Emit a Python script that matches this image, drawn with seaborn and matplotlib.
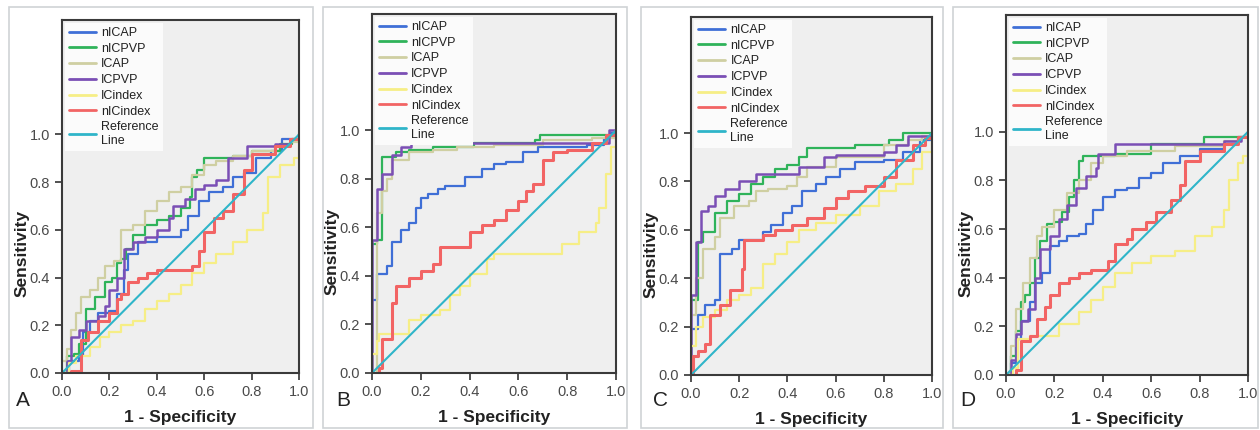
import numpy as np
import pandas as pd
import matplotlib
matplotlib.use("Agg")
import matplotlib.pyplot as plt
from matplotlib.patches import Rectangle
from matplotlib.lines import Line2D
import seaborn as sns

# Courbes ROC : points (1 - spécificité, sensibilité)
CURVES = ["nICAP", "nICPVP", "ICAP", "ICPVP", "ICindex", "nICindex"]
PANELS = ["A", "B", "C", "D"]

# Panneau A
A_nICAP = [(0, 0), (0.03, 0.05), (0.07, 0.07), (0.09, 0.17), (0.12, 0.22), (0.15, 0.25), (0.20, 0.26),
           (0.23, 0.33), (0.26, 0.43), (0.28, 0.50), (0.32, 0.55), (0.40, 0.57), (0.48, 0.57), (0.50, 0.60),
           (0.53, 0.66), (0.58, 0.72), (0.62, 0.76), (0.68, 0.78), (0.72, 0.82), (0.77, 0.84), (0.82, 0.90),
           (0.88, 0.93), (0.93, 0.98), (1, 1)]
A_nICPVP = [(0, 0), (0.02, 0.07), (0.05, 0.08), (0.07, 0.12), (0.10, 0.27), (0.14, 0.32), (0.18, 0.38),
            (0.21, 0.40), (0.23, 0.46), (0.25, 0.48), (0.27, 0.52), (0.30, 0.58), (0.35, 0.62), (0.40, 0.64),
            (0.45, 0.66), (0.50, 0.69), (0.54, 0.74), (0.55, 0.82), (0.57, 0.85), (0.60, 0.90), (0.72, 0.91),
            (0.80, 0.93), (0.92, 0.96), (0.97, 0.98), (1, 1)]
A_ICAP = [(0, 0.05), (0.02, 0.10), (0.04, 0.18), (0.06, 0.25), (0.08, 0.32), (0.12, 0.35), (0.15, 0.40),
          (0.18, 0.45), (0.22, 0.47), (0.25, 0.60), (0.30, 0.62), (0.35, 0.68), (0.40, 0.72), (0.45, 0.76),
          (0.50, 0.78), (0.55, 0.83), (0.60, 0.87), (0.65, 0.89), (0.72, 0.91), (0.80, 0.93), (0.90, 0.95),
          (0.96, 0.97), (1, 1)]
A_ICPVP = [(0, 0), (0.02, 0.05), (0.04, 0.15), (0.07, 0.18), (0.10, 0.22), (0.15, 0.24), (0.18, 0.28),
           (0.20, 0.35), (0.23, 0.40), (0.26, 0.52), (0.30, 0.55), (0.35, 0.57), (0.40, 0.60), (0.45, 0.65),
           (0.47, 0.70), (0.52, 0.73), (0.56, 0.77), (0.60, 0.79), (0.65, 0.81), (0.70, 0.90), (0.78, 0.95),
           (0.90, 0.96), (0.96, 0.98), (1, 1)]
A_ICindex = [(0, 0), (0.03, 0.04), (0.06, 0.07), (0.12, 0.11), (0.16, 0.15), (0.20, 0.17), (0.25, 0.20),
             (0.30, 0.22), (0.35, 0.27), (0.40, 0.30), (0.45, 0.33), (0.50, 0.37), (0.55, 0.42), (0.60, 0.46),
             (0.65, 0.50), (0.72, 0.55), (0.78, 0.60), (0.85, 0.67), (0.87, 0.82), (0.92, 0.87), (0.98, 0.90),
             (1, 0.97), (1, 1)]
A_nICindex = [(0, 0), (0.04, 0.01), (0.08, 0.02), (0.08, 0.14), (0.11, 0.17), (0.15, 0.22), (0.20, 0.25),
              (0.23, 0.31), (0.25, 0.33), (0.28, 0.38), (0.32, 0.40), (0.36, 0.42), (0.40, 0.43), (0.50, 0.43),
              (0.55, 0.45), (0.58, 0.51), (0.60, 0.59), (0.64, 0.65), (0.68, 0.68), (0.72, 0.75), (0.77, 0.85),
              (0.80, 0.92), (0.90, 0.95), (0.96, 0.98), (1, 1)]

# Panneau B
B_nICAP = [(0, 0), (0, 0.30), (0.02, 0.41), (0.06, 0.44), (0.08, 0.54), (0.12, 0.59), (0.15, 0.62),
           (0.18, 0.68), (0.20, 0.72), (0.23, 0.74), (0.27, 0.76), (0.30, 0.77), (0.38, 0.81), (0.45, 0.84),
           (0.50, 0.86), (0.55, 0.87), (0.62, 0.91), (0.68, 0.93), (0.75, 0.93), (0.88, 0.94), (0.95, 0.97),
           (0.98, 0.99), (1, 1)]
B_nICPVP = [(0, 0), (0, 0.53), (0.02, 0.55), (0.04, 0.89), (0.10, 0.91), (0.15, 0.92), (0.25, 0.93),
            (0.42, 0.95), (0.67, 0.96), (0.69, 0.98), (0.88, 0.98), (1, 1)]
B_ICAP = [(0, 0), (0.02, 0.66), (0.04, 0.75), (0.06, 0.80), (0.08, 0.88), (0.15, 0.91), (0.25, 0.92),
          (0.35, 0.93), (0.50, 0.94), (0.70, 0.96), (0.90, 0.97), (1, 1)]
B_ICPVP = [(0, 0), (0, 0.55), (0.02, 0.76), (0.04, 0.82), (0.08, 0.90), (0.12, 0.93), (0.16, 0.95),
           (0.50, 0.95), (0.97, 0.95), (0.97, 1.0), (1, 1)]
B_ICindex = [(0, 0), (0, 0.08), (0.02, 0.13), (0.03, 0.16), (0.14, 0.16), (0.15, 0.22), (0.20, 0.24),
             (0.28, 0.26), (0.32, 0.32), (0.36, 0.36), (0.40, 0.41), (0.47, 0.47), (0.50, 0.49), (0.70, 0.49),
             (0.78, 0.53), (0.85, 0.58), (0.92, 0.62), (0.93, 0.68), (0.96, 0.82), (0.98, 0.93), (1, 1)]
B_nICindex = [(0, 0), (0.03, 0.02), (0.04, 0.14), (0.08, 0.29), (0.10, 0.36), (0.15, 0.39), (0.20, 0.42),
              (0.25, 0.45), (0.28, 0.52), (0.37, 0.52), (0.40, 0.58), (0.45, 0.61), (0.50, 0.63), (0.55, 0.67),
              (0.60, 0.71), (0.63, 0.75), (0.66, 0.78), (0.70, 0.82), (0.70, 0.88), (0.74, 0.91), (0.80, 0.92),
              (0.90, 0.95), (0.96, 0.98), (1, 1)]

# Panneau C
C_nICAP = [(0, 0), (0, 0.19), (0.03, 0.25), (0.06, 0.29), (0.10, 0.31), (0.12, 0.50), (0.17, 0.52),
           (0.20, 0.56), (0.30, 0.59), (0.33, 0.62), (0.38, 0.67), (0.42, 0.70), (0.46, 0.76), (0.52, 0.79),
           (0.56, 0.82), (0.62, 0.85), (0.68, 0.88), (0.80, 0.89), (0.88, 0.92), (0.95, 0.97), (1, 1)]
C_nICPVP = [(0, 0), (0, 0.31), (0.03, 0.55), (0.05, 0.59), (0.10, 0.67), (0.15, 0.72), (0.20, 0.75),
            (0.25, 0.79), (0.30, 0.82), (0.35, 0.85), (0.40, 0.87), (0.45, 0.90), (0.48, 0.94), (0.68, 0.95),
            (0.82, 0.97), (0.88, 1.0), (1, 1)]
C_ICAP = [(0, 0), (0, 0.25), (0.02, 0.40), (0.05, 0.52), (0.10, 0.57), (0.12, 0.65), (0.18, 0.70),
          (0.24, 0.72), (0.27, 0.76), (0.32, 0.77), (0.40, 0.78), (0.44, 0.82), (0.48, 0.86), (0.60, 0.90),
          (0.80, 0.95), (0.90, 0.97), (0.96, 0.99), (1, 1)]
C_ICPVP = [(0, 0), (0, 0.33), (0.02, 0.55), (0.04, 0.68), (0.07, 0.70), (0.10, 0.74), (0.14, 0.77),
           (0.20, 0.80), (0.27, 0.83), (0.40, 0.83), (0.45, 0.86), (0.55, 0.90), (0.60, 0.91), (0.80, 0.92),
           (0.85, 0.95), (0.90, 0.99), (1, 1)]
C_ICindex = [(0, 0.12), (0.02, 0.20), (0.05, 0.24), (0.10, 0.27), (0.15, 0.31), (0.20, 0.33), (0.25, 0.36),
             (0.30, 0.46), (0.35, 0.50), (0.40, 0.55), (0.45, 0.60), (0.52, 0.63), (0.60, 0.66), (0.70, 0.70),
             (0.78, 0.76), (0.85, 0.79), (0.92, 0.85), (0.96, 0.92), (1, 1)]
C_nICindex = [(0, 0), (0.01, 0.08), (0.03, 0.10), (0.06, 0.13), (0.08, 0.25), (0.12, 0.29), (0.16, 0.35),
              (0.21, 0.44), (0.22, 0.56), (0.30, 0.58), (0.35, 0.60), (0.42, 0.62), (0.48, 0.65), (0.55, 0.69),
              (0.60, 0.73), (0.65, 0.76), (0.72, 0.78), (0.80, 0.82), (0.85, 0.89), (0.92, 0.95), (0.97, 0.98),
              (1, 1)]

# Panneau D
D_nICAP = [(0, 0), (0.02, 0.05), (0.04, 0.15), (0.06, 0.22), (0.10, 0.30), (0.12, 0.38), (0.15, 0.42),
           (0.18, 0.53), (0.22, 0.55), (0.25, 0.57), (0.30, 0.58), (0.33, 0.62), (0.36, 0.68), (0.40, 0.73),
           (0.45, 0.76), (0.50, 0.77), (0.55, 0.81), (0.60, 0.83), (0.65, 0.87), (0.72, 0.90), (0.80, 0.93),
           (0.90, 0.95), (0.96, 0.98), (1, 1)]
D_nICPVP = [(0, 0), (0.02, 0.08), (0.04, 0.18), (0.06, 0.30), (0.08, 0.33), (0.10, 0.38), (0.12, 0.48),
            (0.14, 0.55), (0.17, 0.62), (0.20, 0.63), (0.23, 0.67), (0.26, 0.73), (0.28, 0.80), (0.30, 0.88),
            (0.32, 0.90), (0.45, 0.91), (0.60, 0.95), (0.82, 0.98), (1, 1)]
D_ICAP = [(0, 0), (0.02, 0.12), (0.04, 0.27), (0.07, 0.38), (0.10, 0.48), (0.13, 0.57), (0.15, 0.61),
          (0.20, 0.68), (0.25, 0.75), (0.30, 0.80), (0.35, 0.87), (0.40, 0.90), (0.50, 0.92), (0.70, 0.94),
          (0.90, 0.96), (0.97, 0.98), (1, 1)]
D_ICPVP = [(0, 0), (0.02, 0.06), (0.04, 0.17), (0.06, 0.22), (0.09, 0.27), (0.12, 0.40), (0.14, 0.52),
           (0.18, 0.57), (0.22, 0.64), (0.25, 0.70), (0.29, 0.77), (0.33, 0.82), (0.37, 0.85), (0.38, 0.91),
           (0.45, 0.95), (0.70, 0.95), (0.90, 0.96), (0.97, 0.98), (1, 1)]
D_ICindex = [(0, 0), (0.03, 0.03), (0.05, 0.15), (0.10, 0.16), (0.20, 0.16), (0.22, 0.21), (0.30, 0.26),
             (0.35, 0.31), (0.40, 0.36), (0.45, 0.42), (0.52, 0.46), (0.60, 0.49), (0.70, 0.51), (0.78, 0.57),
             (0.85, 0.61), (0.90, 0.68), (0.92, 0.80), (0.96, 0.87), (0.98, 0.90), (1, 1)]
D_nICindex = [(0, 0), (0.04, 0.02), (0.06, 0.06), (0.06, 0.14), (0.10, 0.16), (0.13, 0.23), (0.16, 0.28),
              (0.18, 0.33), (0.22, 0.38), (0.26, 0.40), (0.30, 0.42), (0.35, 0.43), (0.42, 0.47), (0.45, 0.54),
              (0.50, 0.56), (0.52, 0.60), (0.58, 0.63), (0.62, 0.67), (0.68, 0.72), (0.72, 0.78), (0.74, 0.88),
              (0.80, 0.92), (0.90, 0.95), (0.96, 0.98), (1, 1)]

REF_LINE = [(0, 0), (1, 1)]
Y_TICKS = [0.0, 0.2, 0.4, 0.6, 0.8, 1.0]
X_TICKS = [0.0, 0.2, 0.4, 0.6, 0.8, 1.0]

COULEURS = {"nICAP": "#3f6fd6", "nICPVP": "#2fb35a", "ICAP": "#cfcfa2", "ICPVP": "#7b4fb5",
            "ICindex": "#f6ee86", "nICindex": "#f26464"}
COULEUR_REF = "#2fb5c9"
EPAISSEUR = {"nICAP": 1.6, "nICPVP": 1.6, "ICAP": 1.6, "ICPVP": 1.8, "ICindex": 1.6, "nICindex": 2.2}

# Tableau long pour seaborn
lignes = []
for p in PANELS:
    for c in CURVES:
        for x, y in globals()[f"{p}_{c}"]:
            lignes.append({"panel": p, "courbe": c, "fpr": x, "tpr": y})
df = pd.DataFrame(lignes)

sns.set_style("white")
plt.rcParams["font.family"] = ["Liberation Sans", "DejaVu Sans"]

fig = plt.figure(figsize=(12.6, 4.3), dpi=100)
W, H = 1260.0, 430.0

# cadres extérieurs (px) et positions des axes (gauche, droite, haut, bas en px)
cadres = [(9, 313), (323, 627), (641, 943), (953, 1258)]
axes_px = [(62, 299, 20, 373), (372, 616, 14, 373), (691, 932, 17, 375), (1006, 1248, 15, 375)]
lettres_x = [23, 343, 660, 968]
YMAX = 1.48

for i, p in enumerate(PANELS):
    x0, x1 = cadres[i]
    fig.patches.append(Rectangle((x0 / W, 1 - 428 / H), (x1 - x0) / W, 421 / H, transform=fig.transFigure,
                                 fill=False, edgecolor="#cfd3d6", linewidth=1.2))
    l, r, t, b = axes_px[i]
    ax = fig.add_axes([l / W, 1 - b / H, (r - l) / W, (b - t) / H])
    ax.set_facecolor("#efefef")

    sub = df[df["panel"] == p]
    for c in CURVES:
        d = sub[sub["courbe"] == c]
        sns.lineplot(data=d, x="fpr", y="tpr", ax=ax, sort=False, estimator=None, color=COULEURS[c],
                     linewidth=EPAISSEUR[c], drawstyle="steps-post", label=c, legend=False)
    ref = pd.DataFrame(REF_LINE, columns=["fpr", "tpr"])
    sns.lineplot(data=ref, x="fpr", y="tpr", ax=ax, sort=False, estimator=None, color=COULEUR_REF,
                 linewidth=1.5, legend=False)

    ax.set_xlim(0, 1)
    ax.set_ylim(0, YMAX)
    ax.set_xticks(X_TICKS)
    ax.set_yticks(Y_TICKS)
    ax.set_xticklabels([f"{v:.1f}" for v in X_TICKS])
    ax.set_yticklabels([f"{v:.1f}" for v in Y_TICKS])
    ax.tick_params(axis="both", direction="out", length=5, width=1.2, color="#333333",
                   labelsize=10.5, labelcolor="#4a4a4a", bottom=True, left=True)
    for s in ax.spines.values():
        s.set_color("#3a3a3a")
        s.set_linewidth(1.5)

    ax.set_xlabel("1 - Specificity", fontsize=12.5, fontweight="bold", color="#222222", labelpad=8)
    ax.set_ylabel("Sensitivity", fontsize=12.5, fontweight="bold", color="#222222")
    ax.yaxis.set_label_coords(-32 / (r - l), 0.5 / YMAX)

    handles = [Line2D([], [], color=COULEURS[c], linewidth=2) for c in CURVES]
    handles.append(Line2D([], [], color=COULEUR_REF, linewidth=2))
    labels = CURVES + ["Reference\nLine"]
    leg = ax.legend(handles, labels, loc="upper left", fontsize=9, frameon=True, fancybox=False,
                    borderaxespad=0.25, handlelength=2.2, handletextpad=0.4, labelspacing=0.3,
                    borderpad=0.3)
    leg.get_frame().set_facecolor("#fbfbfb")
    leg.get_frame().set_edgecolor("none")
    leg.get_frame().set_alpha(1)
    for txt in leg.get_texts():
        txt.set_color("#222222")

    fig.text(lettres_x[i] / W, 1 - 400 / H, p, fontsize=15, color="#222222", ha="center", va="center")

fig.savefig("out.png", dpi=100)
